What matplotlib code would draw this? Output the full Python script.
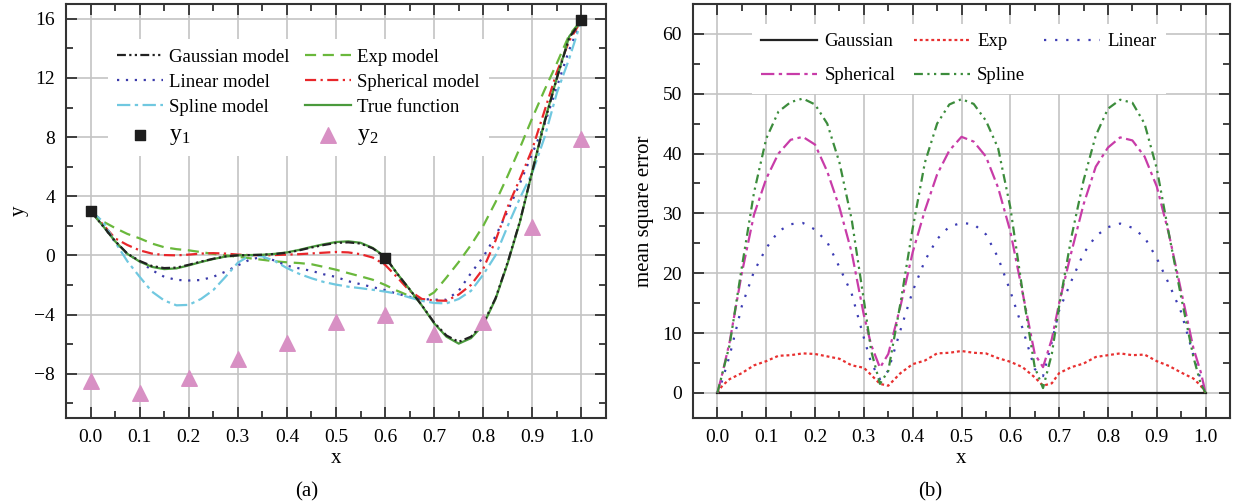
import matplotlib
matplotlib.use('Agg')
import matplotlib.pyplot as plt
from matplotlib.ticker import MultipleLocator, FixedLocator

plt.rcParams['font.family'] = ['Liberation Serif', 'DejaVu Serif']
plt.rcParams['mathtext.fontset'] = 'custom'
plt.rcParams['mathtext.rm'] = 'Liberation Serif'
plt.rcParams['mathtext.it'] = 'Liberation Serif:italic'
plt.rcParams['axes.unicode_minus'] = True

# ---------------- panel (a) data ----------------
xl = [0.0, 0.025, 0.05, 0.075, 0.1, 0.125, 0.15, 0.175, 0.2, 0.225,
      0.25, 0.275, 0.3, 0.325, 0.35, 0.375, 0.4, 0.425, 0.45, 0.475,
      0.5, 0.525, 0.55, 0.575, 0.6, 0.625, 0.65, 0.675, 0.7, 0.725,
      0.75, 0.775, 0.8, 0.825, 0.85, 0.875, 0.9, 0.925, 0.95, 0.975, 1.0]

true_fn = [3.0, 2.0, 0.95, 0.1, -0.42, -0.78, -0.93, -0.88, -0.68, -0.45,
           -0.25, -0.08, 0.0, 0.02, 0.04, 0.1, 0.2, 0.37, 0.57, 0.75,
           0.9, 0.95, 0.85, 0.5, -0.1, -1.25, -2.3, -3.4, -4.6, -5.5,
           -5.97, -5.6, -4.7, -2.95, -0.5, 2.3, 5.7, 9.1, 12.0, 14.8, 15.9]

gauss_m = [3.0, 2.0, 0.97, 0.12, -0.38, -0.72, -0.86, -0.83, -0.64, -0.42,
           -0.23, -0.07, 0.0, 0.02, 0.04, 0.09, 0.18, 0.34, 0.53, 0.7,
           0.84, 0.88, 0.8, 0.47, -0.12, -1.25, -2.3, -3.38, -4.55, -5.42,
           -5.85, -5.5, -4.6, -2.9, -0.45, 2.35, 5.7, 9.0, 12.0, 14.7, 15.9]

exp_m = [3.0, 2.3, 1.85, 1.45, 1.15, 0.8, 0.55, 0.42, 0.34, 0.22,
         0.1, 0.0, -0.1, -0.2, -0.3, -0.4, -0.47, -0.52, -0.6, -0.78,
         -0.97, -1.2, -1.42, -1.65, -2.0, -2.4, -2.75, -3.0, -2.5, -1.5,
         -0.45, 0.7, 2.0, 3.6, 5.4, 7.3, 9.3, 11.2, 13.0, 14.9, 15.9]

linear_m = [3.0, 2.0, 0.9, 0.1, -0.4, -1.0, -1.45, -1.66, -1.7, -1.67,
            -1.45, -1.1, -0.68, -0.28, -0.1, -0.35, -0.7, -0.88, -1.05, -1.28,
            -1.46, -1.75, -1.95, -2.15, -2.35, -2.6, -2.8, -2.95, -3.0, -3.0,
            -2.4, -1.2, -0.1, 1.3, 3.0, 4.9, 6.9, 8.9, 11.4, 13.9, 15.9]

spherical_m = [3.0, 2.1, 1.15, 0.7, 0.34, 0.12, 0.02, 0.0, 0.05, 0.12,
               0.15, 0.12, 0.05, 0.02, 0.0, 0.02, 0.05, 0.08, 0.13, 0.18,
               0.23, 0.2, 0.08, -0.15, -0.64, -1.5, -2.4, -2.95, -3.05, -3.07,
               -2.65, -2.0, -0.9, 1.0, 3.3, 5.2, 7.2, 9.8, 12.4, 14.5, 15.9]

spline_m = [3.0, 2.3, 0.9, -0.4, -1.45, -2.45, -3.05, -3.38, -3.35, -2.95,
            -2.35, -1.45, -0.5, 0.0, -0.07, -0.38, -0.86, -1.25, -1.55, -1.8,
            -1.98, -2.12, -2.22, -2.33, -2.45, -2.6, -2.85, -3.08, -3.22, -3.25,
            -2.95, -2.4, -1.3, 0.0, 2.0, 3.9, 5.6, 8.0, 11.0, 13.3, 15.9]

y1_x = [0.0, 0.6, 1.0]
y1_y = [3.0, -0.2, 15.9]
y2_x = [0.0, 0.1, 0.2, 0.3, 0.4, 0.5, 0.6, 0.7, 0.8, 0.9, 1.0]
y2_y = [-8.5, -9.3, -8.3, -7.0, -5.9, -4.5, -4.0, -5.3, -4.5, 1.9, 7.9]

# ---------------- panel (b) data ----------------
xr = [0.0, 0.01, 0.025, 0.05, 0.075, 0.1, 0.125, 0.15, 0.175, 0.2,
      0.225, 0.25, 0.275, 0.3, 0.315, 0.333, 0.35, 0.375, 0.4, 0.425,
      0.45, 0.475, 0.5, 0.525, 0.55, 0.575, 0.6, 0.625, 0.65, 0.667,
      0.685, 0.7, 0.725, 0.75, 0.775, 0.8, 0.825, 0.85, 0.875, 0.9,
      0.925, 0.95, 0.975, 0.99, 1.0]

mse_gauss = [0.0] * 45

mse_exp = [0.0, 1.2, 2.3, 3.3, 4.6, 5.3, 6.2, 6.3, 6.6, 6.5,
           6.1, 5.7, 4.6, 4.2, 3.0, 1.5, 1.2, 3.3, 4.8, 5.4,
           6.6, 6.7, 7.0, 6.7, 6.6, 5.8, 5.2, 4.3, 2.6, 1.2,
           1.6, 3.3, 4.3, 4.9, 6.0, 6.3, 6.6, 6.3, 6.4, 5.3,
           4.5, 3.4, 2.4, 1.2, 0.0]

mse_linear = [0.0, 2.1, 6.2, 14.5, 20.3, 24.2, 27.0, 28.2, 28.4, 27.3,
              25.2, 21.0, 16.6, 9.2, 5.0, 2.3, 3.7, 10.5, 17.0, 22.1,
              25.7, 27.8, 28.4, 28.2, 26.5, 22.6, 17.0, 10.8, 4.0, 2.8,
              8.5, 13.8, 18.7, 23.3, 26.2, 27.7, 28.3, 27.6, 26.0, 22.5,
              18.2, 13.5, 6.3, 2.2, 0.0]

mse_spherical = [0.0, 3.2, 8.5, 20.0, 29.8, 35.8, 40.0, 42.3, 42.8, 41.5,
                 37.0, 31.0, 23.5, 13.0, 8.0, 4.2, 6.5, 14.5, 23.5, 30.5,
                 36.5, 40.5, 42.8, 42.0, 39.5, 34.3, 27.0, 16.8, 6.5, 4.3,
                 9.0, 15.0, 23.5, 31.5, 37.8, 41.0, 42.7, 42.2, 39.5, 34.5,
                 26.5, 17.0, 7.5, 3.5, 0.0]

mse_spline = [0.0, 3.2, 8.0, 21.0, 33.5, 42.5, 47.0, 48.6, 49.2, 48.2,
              45.0, 38.5, 29.0, 15.5, 7.0, 1.5, 3.7, 15.0, 27.5, 38.5,
              45.0, 48.2, 49.1, 48.3, 45.5, 40.9, 31.0, 17.0, 4.3, 0.8,
              6.5, 14.5, 26.0, 35.5, 43.0, 47.5, 49.0, 48.5, 45.0, 37.5,
              26.5, 16.0, 6.0, 1.5, 0.0]

xticks = [0.0, 0.1, 0.2, 0.3, 0.4, 0.5, 0.6, 0.7, 0.8, 0.9, 1.0]
xticklabels = ['0.0', '0.1', '0.2', '0.3', '0.4', '0.5', '0.6', '0.7', '0.8', '0.9', '1.0']
yticks_a = [-8, -4, 0, 4, 8, 12, 16]
yticks_b = [0, 10, 20, 30, 40, 50, 60]

TICK_FS = 14
LEG_FS = 13.5
LAB_FS = 15

fig = plt.figure(figsize=(12.34, 5.04), dpi=100)
W, H = 1234, 504
ax1 = fig.add_axes([66 / W, (H - 418) / H, 540 / W, 414 / H])
ax2 = fig.add_axes([693 / W, (H - 418) / H, 537 / W, 414 / H])

SPC = '#333333'
GRID = '#c4c4c4'


def style_axes(ax):
    for sp_ in ax.spines.values():
        sp_.set_color(SPC)
        sp_.set_linewidth(1.5)
    ax.tick_params(which='major', direction='in', top=True, right=True,
                   length=8, width=1.3, color=SPC, labelsize=TICK_FS, pad=8)
    ax.tick_params(which='minor', direction='in', top=True, right=True,
                   length=5, width=1.3, color=SPC)
    ax.grid(True, which='major', color=GRID, lw=1.2)
    ax.set_axisbelow(True)
    ax.set_xlim(-0.05, 1.05)
    ax.xaxis.set_major_locator(FixedLocator(xticks))
    ax.set_xticklabels(xticklabels)
    ax.xaxis.set_minor_locator(MultipleLocator(0.05))


# ---------- panel (a) ----------
style_axes(ax1)
ax1.set_ylim(-11, 17)
ax1.yaxis.set_major_locator(FixedLocator(yticks_a))
ax1.set_yticklabels(['\u22128', '\u22124', '0', '4', '8', '12', '16'])
ax1.yaxis.set_minor_locator(MultipleLocator(2))

lw = 1.6
h_gauss, = ax1.plot(xl, gauss_m, color='#222222', lw=lw, ls=(0, (4, 1.5, 1, 1.5, 1, 1.5)),
                    label='Gaussian model', zorder=4)
h_exp, = ax1.plot(xl, exp_m, color='#6ab83c', lw=lw, ls=(0, (5, 3)), label='Exp model', zorder=3)
h_lin, = ax1.plot(xl, linear_m, color='#3a3aaa', lw=lw, ls=(0, (1, 3)), label='Linear model', zorder=3)
h_sph, = ax1.plot(xl, spherical_m, color='#e8262a', lw=lw, ls=(0, (5, 2, 1, 2)),
                  label='Spherical model', zorder=3)
h_spl, = ax1.plot(xl, spline_m, color='#70c8e0', lw=lw, ls=(0, (6, 2, 1.5, 2)),
                  label='Spline model', zorder=3)
h_true, = ax1.plot(xl, true_fn, color='#4a9a3c', lw=lw, ls='-', label='True function', zorder=3)
h_y1 = ax1.scatter(y1_x, y1_y, marker='s', s=60, color='#1e1e1e', zorder=6,
                   label='$\\mathregular{y_1}$')
h_y2 = ax1.scatter(y2_x, y2_y, marker='^', s=125, color='#d890c4', zorder=5,
                   label='$\\mathregular{y_2}$')

ax1.set_xlabel('x', fontsize=LAB_FS, labelpad=2)
ax1.set_ylabel('y', fontsize=LAB_FS, labelpad=4)

leg1 = ax1.legend([h_gauss, h_lin, h_spl, h_y1, h_exp, h_sph, h_true, h_y2],
                  ['Gaussian model', 'Linear model', 'Spline model', '$\\mathregular{y_1}$',
                   'Exp model', 'Spherical model', 'True function', '$\\mathregular{y_2}$'],
                  ncol=2, loc='upper left', bbox_to_anchor=(0.078, 0.915),
                  fontsize=LEG_FS, frameon=True, framealpha=1, edgecolor='none',
                  fancybox=False, handlelength=2.45, handletextpad=0.3,
                  columnspacing=0.85, labelspacing=0.42, borderpad=0.5,
                  borderaxespad=0, scatterpoints=1)
for t in leg1.get_texts():
    if 'y_' in t.get_text():
        t.set_fontsize(17)

# ---------- panel (b) ----------
style_axes(ax2)
ax2.set_ylim(-4.2, 65)
ax2.yaxis.set_major_locator(FixedLocator(yticks_b))
ax2.yaxis.set_minor_locator(MultipleLocator(5))

g, = ax2.plot(xr, mse_gauss, color='#222222', lw=1.6, ls='-', label='Gaussian', zorder=3)
e, = ax2.plot(xr, mse_exp, color='#e83030', lw=1.6, ls=(0, (1.3, 1.3)), label='Exp', zorder=3)
l, = ax2.plot(xr, mse_linear, color='#3c3cb4', lw=1.6, ls=(0, (1, 4)), label='Linear', zorder=3)
s, = ax2.plot(xr, mse_spherical, color='#c83ca8', lw=1.6, ls=(0, (6, 2, 1.5, 2)),
              label='Spherical', zorder=3)
sp, = ax2.plot(xr, mse_spline, color='#3c8c3c', lw=1.6, ls=(0, (4, 2, 1, 2, 1, 2)),
               label='Spline', zorder=3)

ax2.set_xlabel('x', fontsize=LAB_FS, labelpad=2)
ax2.set_ylabel('mean square error', fontsize=LAB_FS, labelpad=6)

leg2 = ax2.legend([g, s, e, sp, l], ['Gaussian', 'Spherical', 'Exp', 'Spline', 'Linear'],
                  ncol=3, loc='upper center', bbox_to_anchor=(0.495, 0.952),
                  fontsize=LEG_FS, frameon=True, framealpha=1, edgecolor='none',
                  fancybox=False, handlelength=3.0, handletextpad=0.37,
                  columnspacing=1.0, labelspacing=0.9, borderpad=0.5, borderaxespad=0)

fig.text(307 / W, 1 - 492 / H, '(a)', ha='center', va='center', fontsize=LAB_FS)
fig.text(930 / W, 1 - 492 / H, '(b)', ha='center', va='center', fontsize=LAB_FS)

fig.savefig('out.png', dpi=100)
